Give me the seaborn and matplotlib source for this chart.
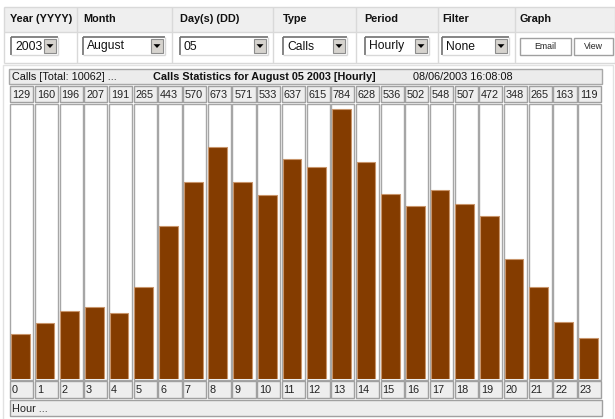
import matplotlib
matplotlib.use("Agg")
import matplotlib.pyplot as plt
from matplotlib.patches import Rectangle, Polygon
import seaborn as sns
import pandas as pd

# ---------------- data ----------------
hours = list(range(24))
calls = [129, 160, 196, 207, 191, 265, 443, 570, 673, 571, 533, 637,
         615, 784, 628, 536, 502, 548, 507, 472, 348, 265, 163, 119]
form_headers = ["Year (YYYY)", "Month", "Day(s) (DD)", "Type", "Period", "Filter", "Graph"]
form_values = ["2003", "August", "05", "Calls", "Hourly", "None"]
buttons = ["Email", "View"]
chart_title = "Calls Statistics for August 05 2003 [Hourly]"
timestamp = "08/06/2003 16:08:08"
x_label = "Hour ..."

sns.set_style("white")
plt.rcParams['font.family'] = ['Liberation Sans', 'DejaVu Sans']

W, H = 615, 419
fig = plt.figure(figsize=(W / 100, H / 100), dpi=100)
fig.patch.set_facecolor("white")
ui = fig.add_axes([0, 0, 1, 1])
ui.set_xlim(0, W)
ui.set_ylim(H, 0)
ui.axis("off")


def rect(x0, y0, x1, y1, fc="none", ec="none", lw=1.0, z=1):
    ui.add_patch(Rectangle((x0, y0), x1 - x0, y1 - y0, facecolor=fc,
                           edgecolor=ec, linewidth=lw, zorder=z))


def line(xs, ys, c, lw=1.0, z=3):
    ui.plot(xs, ys, color=c, linewidth=lw, zorder=z, solid_capstyle="butt")


# ---------------- top form table ----------------
col_edges = [4, 77, 172, 273, 356, 438, 515, 615]
rect(4, 7, 615, 32, fc="#efefef", z=0)
rect(4, 32, 615, 63, fc="white", z=0)
for y in (7, 32, 63):
    line([4, 615], [y, y], "#d9d9d9", 1.0, z=1)
for x in col_edges:
    line([x, x], [7, 63], "#d9d9d9", 1.0, z=1)

hdr_x = [10, 83, 180, 283, 364, 442, 520]
for tx, lab in zip(hdr_x, form_headers):
    ui.text(tx, 19.5, lab, fontsize=7.8, fontweight="bold", ha="left",
            va="center", color="#111111", zorder=5)

dd_boxes = [(11, 58), (83, 165), (180, 268), (283, 347), (365, 429), (442, 509)]
y0, y1 = 37, 55
for (bx0, bx1), val in zip(dd_boxes, form_values):
    rect(bx0, y0, bx1, y1, fc="white", z=2)
    line([bx0, bx0], [y0, y1], "#707070", 1.2)
    line([bx0, bx1], [y0, y0], "#707070", 1.2)
    line([bx1, bx1], [y0, y1], "#d8d8d8", 1.0)
    line([bx0, bx1], [y1, y1], "#d8d8d8", 1.0)
    ax0, ax1 = bx1 - 14, bx1 - 2
    rect(ax0, y0 + 2, ax1, y1 - 2, fc="#d6d3ce", ec="#8c8c8c", lw=0.8, z=3)
    cx, cy = (ax0 + ax1) / 2, (y0 + y1) / 2
    ui.add_patch(Polygon([[cx - 3.5, cy - 1.8], [cx + 3.5, cy - 1.8], [cx, cy + 2]],
                         closed=True, facecolor="black", edgecolor="none", zorder=4))
    ui.text(bx0 + 4, cy + 0.5, val, fontsize=8.7, ha="left", va="center",
            color="#111111", zorder=5)

btn_boxes = [(520, 571), (574, 613)]
for (bx0, bx1), lab in zip(btn_boxes, buttons):
    rect(bx0, 38, bx1, 55, fc="white", ec="#a0a0a0", lw=1.0, z=2)
    ui.text((bx0 + bx1) / 2, 46.5, lab, fontsize=6.3, ha="center", va="center",
            color="#222222", zorder=5)

# ---------------- chart table ----------------
rect(3, 65, 613, 421, fc="white", ec="#e2e2e2", lw=1.0, z=0)
left, right = 9.5, 602.0
cw = (right - left) / 24
rect(9, 69, 602, 84, fc="#ececec", ec="#a8a8a8", lw=1.0, z=1)
ui.text(12, 76.5, f"Calls [Total: {sum(calls)}] ...", fontsize=7.8, ha="left",
        va="center", color="#111111", zorder=5)
ui.text(264, 76.5, chart_title, fontsize=7.8, fontweight="bold", ha="center",
        va="center", color="#111111", zorder=5)
ui.text(413, 76.5, timestamp, fontsize=7.8, ha="left", va="center",
        color="#111111", zorder=5)

for i, (h, v) in enumerate(zip(hours, calls)):
    cl = left + i * cw
    cr = cl + cw
    rect(cl + 0.8, 86, cr - 0.8, 102, fc="#eeeeee", ec="#a0a0a0", lw=1.0, z=1)
    rect(cl + 0.8, 103.5, cr - 0.8, 379.5, fc="white", ec="#a6a6a6", lw=1.0, z=1)
    rect(cl + 0.8, 381, cr - 0.8, 398, fc="#eeeeee", ec="#a0a0a0", lw=1.0, z=1)
    ui.text(cl + 2.5, 94.5, str(v), fontsize=7.8, ha="left", va="center",
            color="#222222", zorder=5)
    ui.text(cl + 2.5, 390, str(h), fontsize=7.8, ha="left", va="center",
            color="#222222", zorder=5)

rect(9.5, 400, 602, 416, fc="#eeeeee", ec="#a0a0a0", lw=1.0, z=1)
ui.text(12, 408.5, x_label, fontsize=7.8, ha="left", va="center",
        color="#222222", zorder=5)

# ---------------- bars ----------------
bar_bottom, bar_top_px = 378.5, 103.0
ax = fig.add_axes([left / W, (H - bar_bottom) / H, (right - left) / W,
                   (bar_bottom - bar_top_px) / H])
ax.patch.set_alpha(0)
df = pd.DataFrame({"hour": hours, "calls": calls})
sns.barplot(data=df, x="hour", y="calls", ax=ax, color="#843c00",
            saturation=1, width=0.76, edgecolor="#c8946a", linewidth=0.8)
ax.set_xlim(-0.44, 23.56)
ax.set_ylim(0, 800)
ax.axis("off")

fig.savefig("out.png", dpi=100, facecolor="white")
